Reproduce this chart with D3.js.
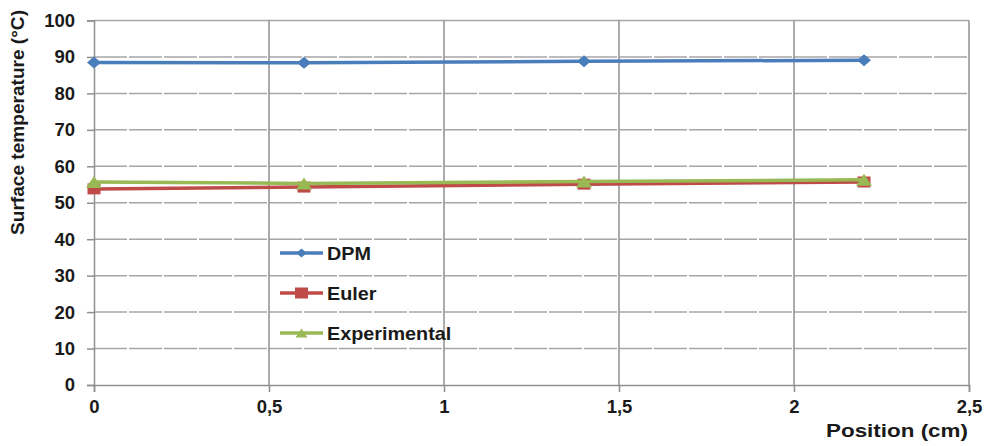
<!DOCTYPE html>
<html>
<head>
<meta charset="utf-8">
<script src="https://cdn.jsdelivr.net/npm/d3@7"></script>
<style>
  body { margin: 0; background: #fff; }
  text { font-family: "Liberation Sans", Arial, sans-serif; font-weight: bold; fill: #1a1a1a; }
</style>
</head>
<body>
<div id="chart"></div>
<script>
// Data
const positions = [0, 0.6, 1.4, 2.2];
const dpm = [88.5, 88.4, 88.8, 89.1];
const euler = [53.8, 54.3, 55.1, 55.7];
const experimental = [55.7, 55.3, 55.8, 56.3];

const seriesNames = ["DPM", "Euler", "Experimental"];
const xTicks = [0, 0.5, 1, 1.5, 2, 2.5];
const yTicks = [0, 10, 20, 30, 40, 50, 60, 70, 80, 90, 100];

const series = [
  { name: seriesNames[0], values: dpm, color: "#4a7ebb", marker: "diamond" },
  { name: seriesNames[1], values: euler, color: "#be4b48", marker: "square" },
  { name: seriesNames[2], values: experimental, color: "#98b954", marker: "triangle" }
];

const width = 988, height = 446;
const margin = { top: 20.5, right: 19, bottom: 61, left: 94 };

const svg = d3.select("#chart")
  .append("svg")
  .attr("width", width)
  .attr("height", height);

const x = d3.scaleLinear()
  .domain([0, 2.5])
  .range([margin.left, width - margin.right]);

const y = d3.scaleLinear()
  .domain([0, 100])
  .range([height - margin.bottom, margin.top]);

const fmt = d => String(d).replace(".", ",");

// horizontal gridlines (dashed), top one solid
svg.append("g")
  .selectAll("line")
  .data(yTicks.filter(d => d > 0))
  .join("line")
  .attr("x1", x(0)).attr("x2", x(2.5))
  .attr("y1", d => y(d)).attr("y2", d => y(d))
  .attr("stroke", "#a6a6a6")
  .attr("stroke-width", 1.5)
  .attr("stroke-dasharray", d => d === 100 ? null : "33,2");

// vertical gridlines (solid)
svg.append("g")
  .selectAll("line")
  .data(xTicks.filter(d => d > 0))
  .join("line")
  .attr("x1", d => x(d)).attr("x2", d => x(d))
  .attr("y1", y(0)).attr("y2", y(100))
  .attr("stroke", "#8f8f8f")
  .attr("stroke-width", 1.5);

// axes
const yAxis = svg.append("g")
  .attr("transform", `translate(${margin.left},0)`)
  .call(d3.axisLeft(y).tickValues(yTicks).tickSize(7).tickPadding(12).tickFormat(fmt));

const xAxis = svg.append("g")
  .attr("transform", `translate(0, ${height - margin.bottom})`)
  .call(d3.axisBottom(x).tickValues(xTicks).tickSize(7).tickPadding(8).tickFormat(fmt));

[yAxis, xAxis].forEach(g => {
  g.select(".domain").attr("stroke", "#8f8f8f").attr("stroke-width", 1.5);
  g.selectAll(".tick line").attr("stroke", "#8f8f8f").attr("stroke-width", 1.5);
  g.selectAll(".tick text")
    .style("font-size", "18.5px")
    .style("font-family", "'Liberation Sans', Arial, sans-serif")
    .style("font-weight", "bold")
    .attr("fill", "#1a1a1a");
});

// axis titles
svg.append("text")
  .attr("x", width - margin.right - 1)
  .attr("y", 437)
  .attr("text-anchor", "end")
  .attr("textLength", 142)
  .attr("lengthAdjust", "spacingAndGlyphs")
  .style("font-size", "19px")
  .text("Position (cm)");

svg.append("text")
  .attr("transform", "rotate(-90)")
  .attr("x", -122.5)
  .attr("y", 24)
  .attr("text-anchor", "middle")
  .attr("textLength", 225)
  .attr("lengthAdjust", "spacingAndGlyphs")
  .style("font-size", "19px")
  .text("Surface temperature (°C)");

// marker shapes
function drawMarker(g, type, cx, cy, color, big) {
  const s = big ? 1 : 0.75;
  if (type === "diamond") {
    const w = 7 * s, h = 6 * s;
    g.append("path")
      .attr("d", `M${cx - w},${cy}L${cx},${cy - h}L${cx + w},${cy}L${cx},${cy + h}Z`)
      .attr("fill", color);
  } else if (type === "square") {
    const w = 13, h = 11;
    g.append("rect")
      .attr("x", cx - w / 2).attr("y", cy - h / 2)
      .attr("width", w).attr("height", h)
      .attr("fill", color);
  } else {
    const w = 8 * s, h = 12 * s;
    g.append("path")
      .attr("d", `M${cx - w},${cy + h / 2}L${cx},${cy - h / 2}L${cx + w},${cy + h / 2}Z`)
      .attr("fill", color);
  }
}

const line = d3.line()
  .x((d, i) => x(positions[i]))
  .y(d => y(d));

series.forEach(s => {
  const g = svg.append("g");
  g.append("path")
    .datum(s.values)
    .attr("d", line)
    .attr("fill", "none")
    .attr("stroke", s.color)
    .attr("stroke-width", 3.5);
  s.values.forEach((v, i) => drawMarker(g, s.marker, x(positions[i]), y(v), s.color, true));
});

// legend
const legend = svg.append("g").attr("transform", "translate(280, 253)");
series.forEach((s, i) => {
  const ly = i * 40;
  legend.append("line")
    .attr("x1", 0).attr("x2", 43)
    .attr("y1", ly).attr("y2", ly)
    .attr("stroke", s.color)
    .attr("stroke-width", 3.5);
  drawMarker(legend, s.marker, 21.5, ly, s.color, false);
  legend.append("text")
    .attr("transform", `translate(47, ${ly + 6.5}) scale(1.1, 1)`)
    .style("font-size", "18px")
    .text(s.name);
});
</script>
</body>
</html>
